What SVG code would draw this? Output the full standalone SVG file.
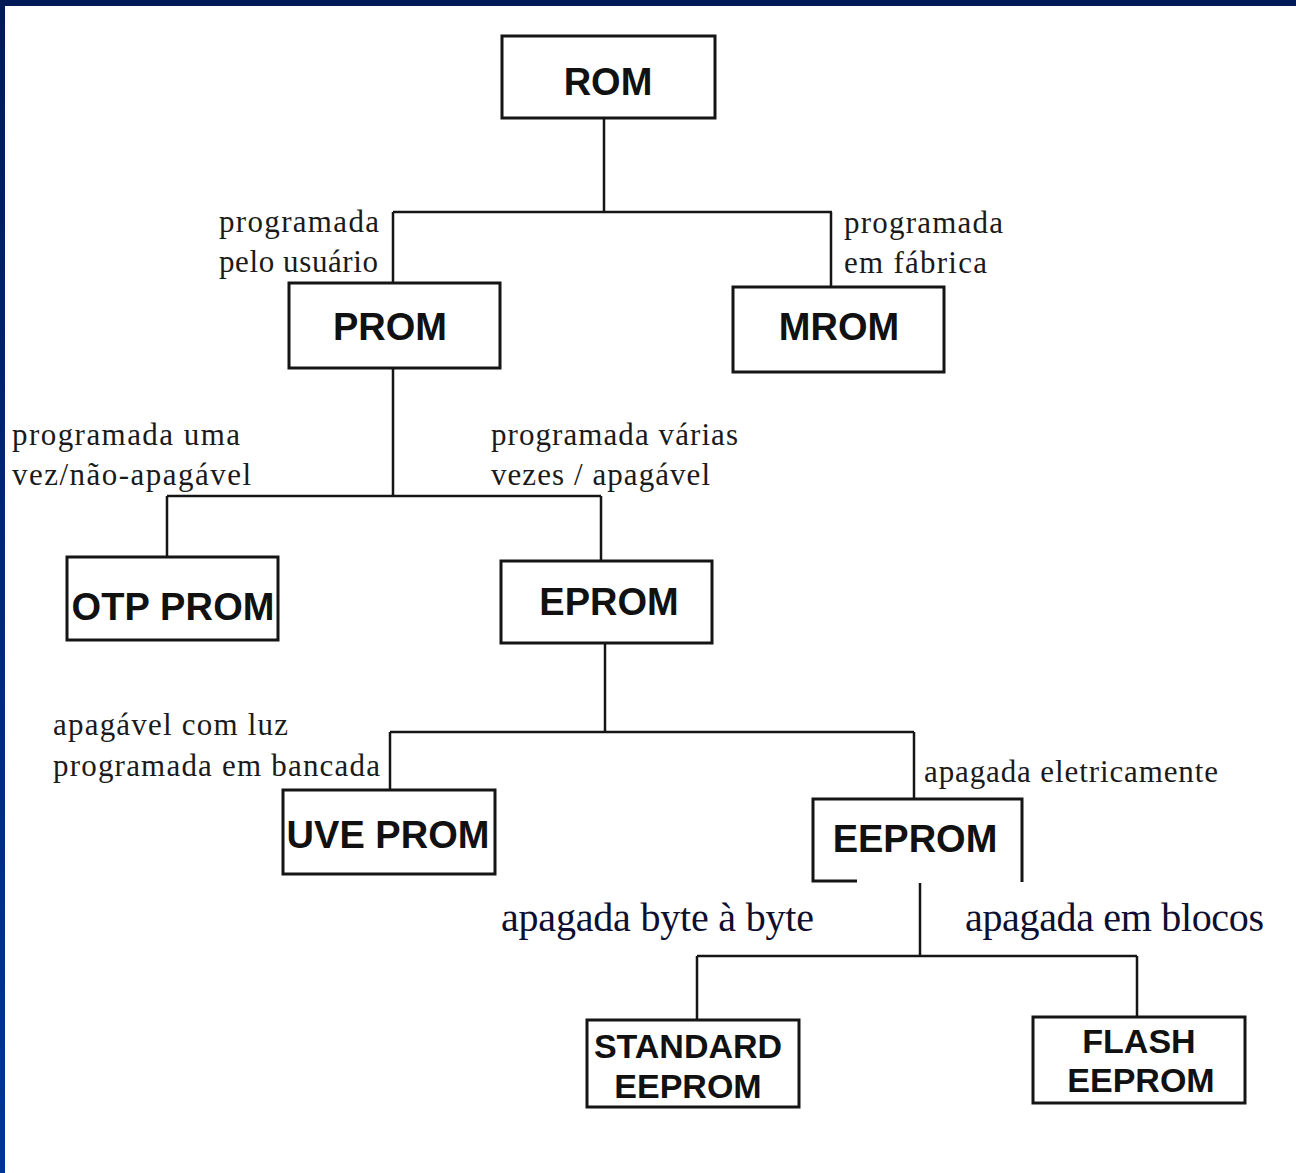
<svg xmlns="http://www.w3.org/2000/svg" width="1296" height="1173" viewBox="0 0 1296 1173">
<style>
.box{fill:#fff;stroke:#151515;stroke-width:3}
.con{fill:none;stroke:#151515;stroke-width:2.5}
.nt{font-family:"Liberation Sans",Arial,sans-serif;font-weight:bold;font-size:38px;fill:#111;text-anchor:middle}
.nt2{font-family:"Liberation Sans",Arial,sans-serif;font-weight:bold;font-size:34px;fill:#111;text-anchor:middle}
.lb{font-family:"Liberation Serif","Times New Roman",serif;font-size:31px;fill:#1a1a1a}
.lb2{font-family:"Liberation Serif","Times New Roman",serif;font-size:40px;fill:#0e0e2e}
</style>
<defs>
<linearGradient id="lbar" x1="0" y1="0" x2="0" y2="1">
<stop offset="0" stop-color="#001a57"/>
<stop offset="1" stop-color="#00339a"/>
</linearGradient>
</defs>
<rect x="0" y="0" width="1296" height="1173" fill="#fff"/>
<rect x="0" y="0" width="1296" height="6" fill="#001a57"/>
<rect x="0" y="0" width="5" height="1173" fill="url(#lbar)"/>

<g id="connectors">
<path class="con" d="M604 118 V212 M393 212 H832 M393 212 V284 M831 212 V287"/>
<path class="con" d="M393 368 V496 M167 496 H601 M167 496 V557 M601 496 V561"/>
<path class="con" d="M605 643 V732 M390 732 H914 M390 732 V790 M914 732 V799"/>
<path class="con" d="M920 883 V956 M697 956 H1137 M697 956 V1020 M1137 956 V1017"/>
</g>

<g id="labels">
<text class="lb" x="219" y="232" textLength="160">programada</text>
<text class="lb" x="219" y="272" textLength="159">pelo usuário</text>
<text class="lb" x="844" y="233" textLength="159">programada</text>
<text class="lb" x="844" y="273" textLength="143">em fábrica</text>
<text class="lb" x="12" y="445" textLength="228">programada uma</text>
<text class="lb" x="12" y="485" textLength="239">vez/não-apagável</text>
<text class="lb" x="491" y="445" textLength="247">programada várias</text>
<text class="lb" x="491" y="485" textLength="219">vezes / apagável</text>
<text class="lb" x="53" y="735" textLength="235">apagável com luz</text>
<text class="lb" x="53" y="776" textLength="327">programada em bancada</text>
<text class="lb" x="924" y="782" textLength="294">apagada eletricamente</text>
<text class="lb2" x="501" y="931" textLength="313">apagada byte à byte</text>
<text class="lb2" x="965" y="931" textLength="299">apagada em blocos</text>
</g>

<g id="node-rom">
<rect class="box" x="502" y="36" width="213" height="82"/>
<text class="nt" x="608" y="95">ROM</text>
</g>
<g id="node-prom">
<rect class="box" x="289" y="283" width="211" height="85"/>
<text class="nt" x="390" y="340">PROM</text>
</g>
<g id="node-mrom">
<rect class="box" x="733" y="287" width="211" height="85"/>
<text class="nt" x="839" y="340">MROM</text>
</g>
<g id="node-otp">
<rect class="box" x="67" y="557" width="211" height="83"/>
<text class="nt" x="173" y="620" textLength="203">OTP PROM</text>
</g>
<g id="node-eprom">
<rect class="box" x="501" y="561" width="211" height="82"/>
<text class="nt" x="609" y="615">EPROM</text>
</g>
<g id="node-uve">
<rect class="box" x="283" y="790" width="212" height="84"/>
<text class="nt" x="388" y="848" textLength="203">UVE PROM</text>
</g>
<g id="node-eeprom">
<path class="box" d="M857 881 H813 V799 H1022 V882"/>
<text class="nt" x="915" y="852">EEPROM</text>
</g>
<g id="node-standard">
<rect class="box" x="587" y="1020" width="212" height="87"/>
<text class="nt2" x="688" y="1058">STANDARD</text>
<text class="nt2" x="688" y="1098">EEPROM</text>
</g>
<g id="node-flash">
<rect class="box" x="1033" y="1017" width="212" height="86"/>
<text class="nt2" x="1139" y="1053">FLASH</text>
<text class="nt2" x="1141" y="1092">EEPROM</text>
</g>
</svg>
